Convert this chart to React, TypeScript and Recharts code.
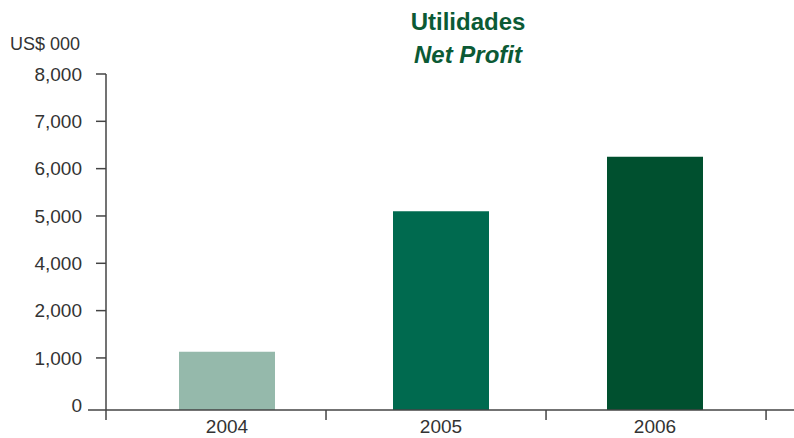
import React from "react";
import { BarChart, Bar, XAxis, YAxis, Cell, LabelList } from "recharts";

const years = ["2004", "2005", "2006"];
const netProfit = [1130, 5100, 6250];
const barColors = ["#95b9ab", "#006a4f", "#00502f"];

// the printed axis skips 3,000: labels are evenly spaced
const yTickValues = [0, 1000, 2000, 4000, 5000, 6000, 7000, 8000];
const yTickLabels = ["0", "1,000", "2,000", "4,000", "5,000", "6,000", "7,000", "8,000"];

const AXIS_MIN = -0.1;
const AXIS_COLOR = "#444";
const FONT = "'Liberation Sans', Arial, sans-serif";

// value -> position on the evenly spaced label axis
const toAxis = (v: number) => {
  for (let i = 1; i < yTickValues.length; i++) {
    if (v <= yTickValues[i]) {
      const lo = yTickValues[i - 1];
      const hi = yTickValues[i];
      return i - 1 + (v - lo) / (hi - lo);
    }
  }
  return yTickValues.length - 1;
};

const data = years.map((year, i) => ({ year, slot: i, profit: netProfit[i], pos: toAxis(netProfit[i]) }));
const yTicks = [AXIS_MIN, ...yTickLabels.map((_, i) => i)];

const YTick = (props: any) => {
  const { x, y, payload } = props;
  if (payload.value === AXIS_MIN) {
    return <line x1={x - 18} x2={x} y1={y} y2={y} stroke={AXIS_COLOR} strokeWidth={1.5} />;
  }
  const label = yTickLabels[payload.value];
  return (
    <g>
      {payload.value !== 0 && (
        <line x1={x - 10} x2={x} y1={y} y2={y} stroke={AXIS_COLOR} strokeWidth={1.5} />
      )}
      <text x={x - 24} y={y} dy="0.355em" textAnchor="end" fontSize={19} fill="#333" fontFamily={FONT}>
        {label}
      </text>
    </g>
  );
};

const YearLabel = (props: any) => {
  const { x, y, width, height, value } = props;
  return (
    <text x={x + width / 2} y={y + height + 23} textAnchor="middle" fontSize={19} fill="#333" fontFamily={FONT}>
      {value}
    </text>
  );
};

export default function App() {
  return (
    <div style={{ position: "absolute", left: 0, top: 0, width: 794, height: 438, background: "#fff" }}>
      <div
        style={{
          position: "absolute",
          left: 318,
          top: 5,
          width: 300,
          textAlign: "center",
          fontFamily: FONT,
          fontWeight: "bold",
          fontSize: 24,
          lineHeight: "33px",
          color: "#0b5a35",
        }}
      >
        <div>Utilidades</div>
        <div style={{ fontStyle: "italic" }}>Net Profit</div>
      </div>
      <div
        style={{
          position: "absolute",
          left: 10,
          top: 35,
          fontFamily: FONT,
          fontSize: 18,
          lineHeight: "18px",
          color: "#333",
          whiteSpace: "nowrap",
        }}
      >
        US$ 000
      </div>
      <BarChart width={794} height={438} data={data} margin={{ top: 74, right: 0, left: 0, bottom: 0 }}>
        <XAxis xAxisId="years" dataKey="year" padding={{ left: 14, right: 32 }} hide />
        <XAxis
          xAxisId="frame"
          dataKey="slot"
          type="number"
          domain={[0, 3.127]}
          ticks={[0, 1, 2, 3]}
          allowDataOverflow
          height={28}
          tickSize={10}
          tickFormatter={() => ""}
          axisLine={{ stroke: AXIS_COLOR, strokeWidth: 1.5 }}
          tickLine={{ stroke: AXIS_COLOR, strokeWidth: 1.5 }}
        />
        <YAxis
          type="number"
          domain={[AXIS_MIN, 7]}
          ticks={yTicks}
          width={106}
          tickSize={0}
          tickMargin={0}
          tickLine={false}
          axisLine={{ stroke: AXIS_COLOR, strokeWidth: 1.5 }}
          tick={<YTick />}
          interval={0}
        />
        <Bar
          xAxisId="years"
          dataKey={(d: any) => [AXIS_MIN, d.pos]}
          barSize={96}
          isAnimationActive={false}
        >
          {data.map((d, i) => (
            <Cell key={d.year} fill={barColors[i]} />
          ))}
          <LabelList dataKey="year" content={<YearLabel />} />
        </Bar>
      </BarChart>
    </div>
  );
}
